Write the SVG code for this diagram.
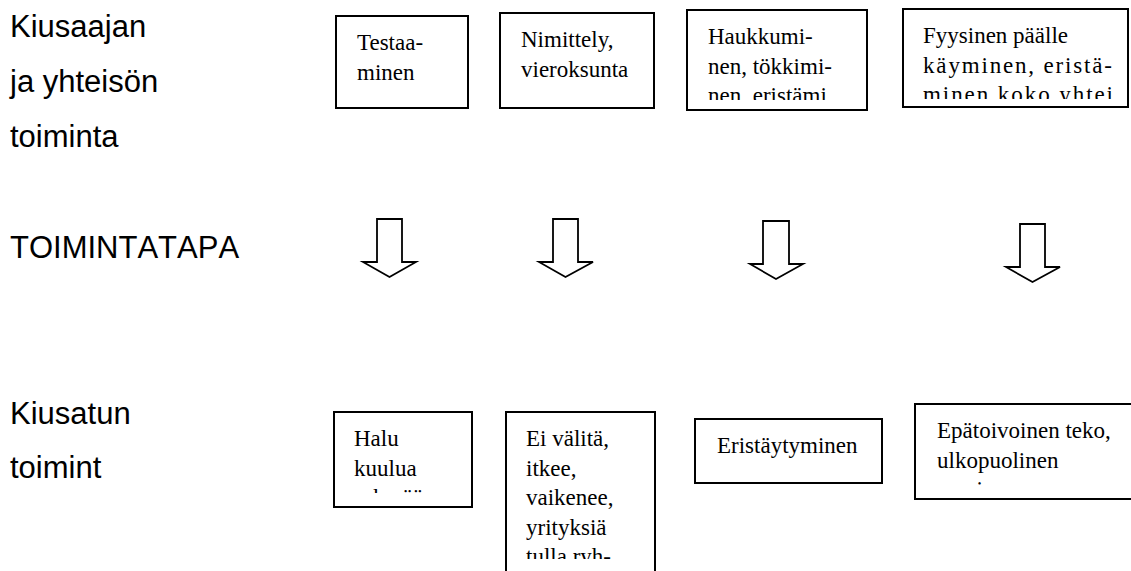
<svg xmlns="http://www.w3.org/2000/svg" width="1131" height="571" viewBox="0 0 1131 571">
<style>
.box{fill:#fff;stroke:#000;stroke-width:2}
.t{font-family:"Liberation Serif","Times New Roman",serif;font-size:23px;fill:#000}
.lab{font-family:"Liberation Sans",Arial,sans-serif;font-size:31px;fill:#000;font-kerning:none}
.arr{fill:#fff;stroke:#000;stroke-width:1.8;stroke-linejoin:miter}
</style>
<defs>
<clipPath id="c3"><rect x="687" y="10" width="180" height="90"/></clipPath>
<clipPath id="c4"><rect x="903" y="9" width="225" height="90"/></clipPath>
<clipPath id="c5"><rect x="334" y="412" width="138" height="81"/></clipPath>
<clipPath id="c6"><rect x="506" y="412" width="149" height="147"/></clipPath>
<clipPath id="c8"><rect x="915" y="404" width="216" height="81"/></clipPath>
</defs>
<rect width="1131" height="571" fill="#fff"/>
<g id="labels">
<text class="lab" x="10" y="37">Kiusaajan</text>
<text class="lab" x="10" y="92">ja yhteisön</text>
<text class="lab" x="10" y="147">toiminta</text>
<text class="lab" x="10" y="258">TOIMINTATAPA</text>
<text class="lab" x="10" y="424">Kiusatun</text>
<text class="lab" x="10" y="478">toimint</text>
</g>
<g id="connectors">
<polygon class="arr" points="377,219 402,219 402,262 416,262 389.5,277 363,262 377,262"/>
<polygon class="arr" points="553,219 578,219 578,262 593,262 565.5,277 539,262 553,262"/>
<polygon class="arr" points="763,221 789,221 789,264 803,264 776,279 750,264 763,264"/>
<polygon class="arr" points="1020,224 1045,224 1045,267 1060,267 1032.5,282 1006,267 1020,267"/>
</g>
<g id="node-testaaminen">
<rect class="box" x="336" y="16" width="132" height="92"/>
<text class="t" x="357" y="50">Testaa-</text>
<text class="t" x="357" y="79.5">minen</text>
</g>
<g id="node-nimittely">
<rect class="box" x="500" y="13" width="154" height="95"/>
<text class="t" x="521" y="47">Nimittely,</text>
<text class="t" x="521" y="76.5">vieroksunta</text>
</g>
<g id="node-haukkuminen">
<rect class="box" x="687" y="10" width="180" height="100"/>
<g clip-path="url(#c3)">
<text class="t" x="708" y="44">Haukkumi-</text>
<text class="t" x="708" y="73.5">nen, tökkimi-</text>
<text class="t" x="708" y="103">nen, eristämi</text>
</g>
</g>
<g id="node-fyysinen">
<rect class="box" x="903" y="9" width="225" height="98"/>
<g clip-path="url(#c4)">
<text class="t" x="923" y="43">Fyysinen päälle</text>
<text class="t" x="923" y="72.5" textLength="189" lengthAdjust="spacing">käyminen, eristä-</text>
<text class="t" x="923" y="102" textLength="190" lengthAdjust="spacing">minen koko yhtei</text>
</g>
</g>
<g id="node-halu">
<rect class="box" x="334" y="412" width="138" height="95"/>
<g clip-path="url(#c5)">
<text class="t" x="354" y="446">Halu</text>
<text class="t" x="354" y="475.5">kuulua</text>
<text class="t" x="354" y="505">ryhmään</text>
</g>
</g>
<g id="node-eivalita">
<rect class="box" x="506" y="412" width="149" height="180"/>
<g clip-path="url(#c6)">
<text class="t" x="526" y="446">Ei välitä,</text>
<text class="t" x="526" y="475.5">itkee,</text>
<text class="t" x="526" y="505">vaikenee,</text>
<text class="t" x="526" y="534.5">yrityksiä</text>
<text class="t" x="526" y="564">tulla ryh-</text>
</g>
</g>
<g id="node-eristaytyminen">
<rect class="box" x="695" y="419" width="187" height="64"/>
<text class="t" x="717" y="453">Eristäytyminen</text>
</g>
<g id="node-epatoivoinen">
<rect class="box" x="915" y="404" width="240" height="95"/>
<g clip-path="url(#c8)">
<text class="t" x="937" y="438">Epätoivoinen teko,</text>
<text class="t" x="937" y="467.5">ulkopuolinen</text>
<text class="t" x="937" y="497">suuri vaara</text>
</g>
</g>
</svg>
